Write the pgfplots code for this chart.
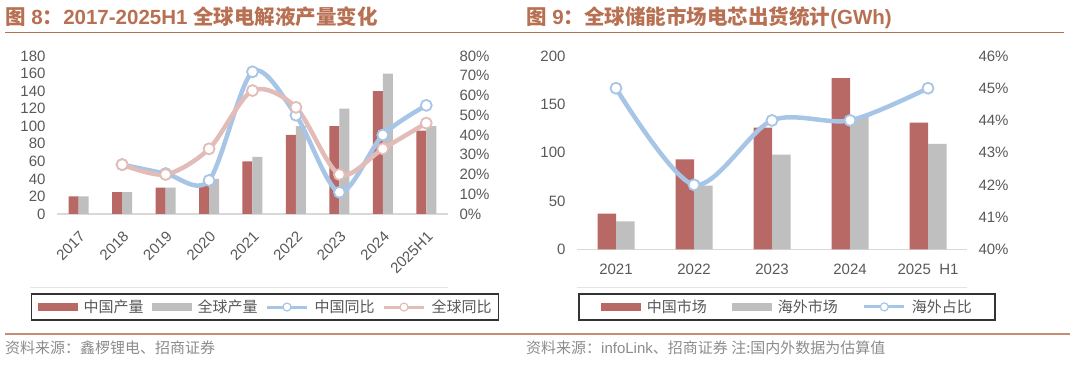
\documentclass[border=0pt]{standalone}
\usepackage{pgfplots}
\pgfplotsset{compat=1.18}
\usepackage{fontspec}
\setmainfont{Liberation Sans}
\newfontfamily\cjk{Noto Sans CJK SC}
\definecolor{barred}{RGB}{184,105,102}
\definecolor{bargray}{RGB}{191,191,191}
\definecolor{lblue}{RGB}{167,197,230}
\definecolor{lpink}{RGB}{226,188,183}
\definecolor{titlec}{RGB}{184,112,82}
\definecolor{tickc}{RGB}{89,89,89}
\definecolor{srcc}{RGB}{140,140,140}
\definecolor{axc}{RGB}{217,217,217}

\pgfplotsset{
  base/.style={
    scale only axis, clip=false,
    axis line style={draw=none},
    tick style={draw=none},
    /pgf/number format/assume math mode=true,
    ticklabel style={font=\fontsize{15}{15}\selectfont, text=tickc},
  },
  barleg/.style={legend image code/.code={\fill[#1] (0pt,-4pt) rectangle (40pt,4pt);}},
  lineleg/.style={legend image code/.code={
      \draw[#1, line width=3pt] (0pt,0pt) -- (40pt,0pt);
      \draw[#1, fill=white, line width=1.2pt] (20pt,0pt) circle (4pt);}},
  legsty/.style 2 args={legend style={
      draw=black!80, line width=1.5pt, fill=white,
      font=\cjk\fontsize{15}{15}\selectfont, text=tickc,
      /tikz/every odd column/.append style={column sep=5pt},
      /tikz/every even column/.append style={column sep=#1},
      inner xsep=#2, inner ysep=5pt, nodes={inner sep=1pt}}},
}

\begin{document}
\begin{tikzpicture}[x=1pt,y=1pt]
\useasboundingbox (0,0) rectangle (1080,371);

% titles
\node[anchor=base west, inner sep=0, text=titlec, font=\bfseries\fontsize{20.5}{20.5}\selectfont] at (5,346)
  {{\cjk 图} 8{\cjk ：}2017-2025H1 {\cjk 全球电解液产量变化}};
\node[anchor=base west, inner sep=0, text=titlec, font=\bfseries\fontsize{20.5}{20.5}\selectfont] at (526,346)
  {{\cjk 图} 9{\cjk ：全球储能市场电芯出货统计}(GWh)};
\draw[titlec, line width=1.8pt] (5,338.5) -- (1064,338.5);

% faint frame lines above the legends
\draw[axc!70, line width=1pt] (30,83) -- (448,83);
\draw[axc!70, line width=1pt] (577,83) -- (967,83);

% footer
\draw[titlec!80, line width=1.5pt] (5,37) -- (1070,37);
\node[anchor=base west, inner sep=0, text=srcc, font=\cjk\fontsize{15}{15}\selectfont] at (5,17) {资料来源：鑫椤锂电、招商证券};
\node[anchor=base west, inner sep=0, text=srcc, font=\cjk\fontsize{15}{15}\selectfont] at (526,17) {资料来源：{\rmfamily infoLink}、招商证券 注:国内外数据为估算值};

% ---------------- Left chart ----------------
\begin{axis}[base, at={(57pt,157pt)}, anchor=south west, width=391pt, height=158pt,
  xmin=-0.5, xmax=8.5, ymin=0, ymax=180, ytick={0,20,...,180},
  xtick={0,...,8}, xticklabels={2017,2018,2019,2020,2021,2022,2023,2024,2025H1},
  xticklabel style={rotate=45, anchor=north east},
  xticklabel shift=7pt,
  yticklabel shift=8pt,
  ybar, bar width=10pt,
  legsty={7pt}{6pt}, legend columns=4,
  legend style={at={(0.532,-0.589)}, anchor=center},
  ]
  \draw[axc, line width=1.5pt] (axis cs:-0.5,0) -- (axis cs:8.5,0);
  \addplot[fill=barred, draw=none, bar shift=-5pt, barleg=barred] coordinates
    {(0,20) (1,25) (2,30) (3,35) (4,60) (5,90) (6,100) (7,140) (8,95)};
  \addplot[fill=bargray, draw=none, bar shift=5pt, barleg=bargray] coordinates
    {(0,20) (1,25) (2,30) (3,40) (4,65) (5,100) (6,120) (7,160) (8,100)};
  \addlegendimage{lineleg=lblue}
  \addlegendimage{lineleg=lpink}
  \legend{中国产量,全球产量,中国同比,全球同比}
\end{axis}
\begin{axis}[base, at={(57pt,157pt)}, anchor=south west, width=391pt, height=158pt,
  xmin=-0.5, xmax=8.5, ymin=0, ymax=80, ytick={0,10,...,80},
  xtick=\empty, ytick pos=right, yticklabel pos=right,
  yticklabel={\pgfmathprintnumber{\tick}\%},
  yticklabel shift=8pt,
  ]
  \addplot[lblue, line width=4.5pt, smooth, mark=*, mark size=5.5pt,
    mark options={fill=white, draw=lblue, line width=1.8pt}] coordinates
    {(1,25) (2,20.5) (3,17) (4,72) (5,50) (6,11) (7,40) (8,55)};
  \addplot[lpink, line width=4.5pt, smooth, mark=*, mark size=5.5pt,
    mark options={fill=white, draw=lpink, line width=1.8pt}] coordinates
    {(1,25) (2,20) (3,33) (4,62.5) (5,54) (6,20) (7,33) (8,46)};
\end{axis}

% ---------------- Right chart ----------------
\begin{axis}[base, at={(577pt,121.7pt)}, anchor=south west, width=390pt, height=193.3pt,
  xmin=-0.5, xmax=4.5, ymin=0, ymax=200, ytick={0,50,...,200},
  xtick={0,...,4}, xticklabels={2021,2022,2023,2024,{2025\ \ H1}},
  xticklabel shift=7pt,
  yticklabel shift=8pt,
  ybar, bar width=18.5pt,
  legsty={24pt}{22pt}, legend columns=3,
  legend style={at={(0.538,-0.298)}, anchor=center},
  ]
  \draw[axc, line width=1.5pt] (axis cs:-0.5,0) -- (axis cs:4.5,0);
  \addplot[fill=barred, draw=none, bar shift=-9.25pt, barleg=barred] coordinates
    {(0,37) (1,93) (2,126) (3,177) (4,131)};
  \addplot[fill=bargray, draw=none, bar shift=9.25pt, barleg=bargray] coordinates
    {(0,29) (1,66) (2,98) (3,137) (4,109)};
  \addlegendimage{lineleg=lblue}
  \legend{中国市场,海外市场,海外占比}
\end{axis}
\begin{axis}[base, at={(577pt,121.7pt)}, anchor=south west, width=390pt, height=193.3pt,
  xmin=-0.5, xmax=4.5, ymin=40, ymax=46, ytick={40,41,...,46},
  xtick=\empty, ytick pos=right, yticklabel pos=right,
  yticklabel={\pgfmathprintnumber{\tick}\%},
  yticklabel shift=8pt,
  ]
  \addplot[lblue, line width=4.5pt, smooth, mark=*, mark size=5.5pt,
    mark options={fill=white, draw=lblue, line width=1.8pt}] coordinates
    {(0,45) (1,42) (2,44) (3,44) (4,45)};
\end{axis}
\end{tikzpicture}
\end{document}
